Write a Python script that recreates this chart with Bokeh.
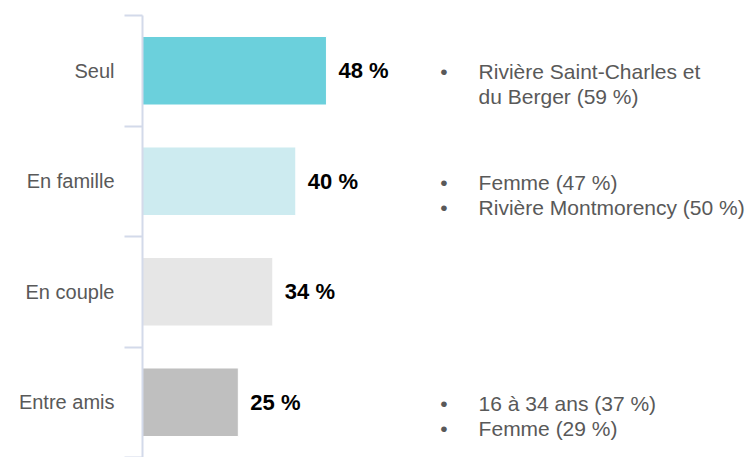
from bokeh.plotting import figure
from bokeh.models import Range1d, FixedTicker, ColumnDataSource
from bokeh.core.properties import value
from bokeh.embed import file_html
from bokeh.resources import INLINE

categories = ["Seul", "En famille", "En couple", "Entre amis"]
values = [48, 40, 34, 25]
colors = ["#6BD0DC", "#CDEBF0", "#E6E6E6", "#BFBFBF"]
notes = [
    ["Rivière Saint-Charles et", "du Berger (59 %)"],
    ["Femme (47 %)", "Rivière Montmorency (50 %)"],
    [],
    ["16 à 34 ans (37 %)", "Femme (29 %)"],
]
bullets = [[True, False], [True, True], [], [True, True]]

n = len(categories)
ys = [n - i - 0.5 for i in range(n)]
labels = [f"{v} %" for v in values]

FONT = "Liberation Sans"
GRAY = "#595959"
AXIS = "#D3DAEA"

p = figure(width=751, height=457, output_backend="svg", toolbar_location=None,
           x_range=Range1d(0, 158.9), y_range=Range1d(0, n),
           min_border_left=142, min_border_right=0, min_border_top=15, min_border_bottom=0)
p.outline_line_color = None
p.xgrid.visible = False
p.ygrid.visible = False
p.xaxis.visible = False
p.background_fill_color = "white"

src = ColumnDataSource(dict(y=ys, v=values, c=colors, lab=labels))
p.hbar(y="y", left=0, right="v", height=0.62, fill_color="c", line_color="white",
       line_width=1, source=src)
p.text(x="v", y="y", text="lab", source=src, x_offset=12, text_baseline="middle",
       text_align="left", text_font=value(FONT), text_font_size="22px",
       text_font_style="bold", text_color="black")

# annotations
bx, tx, by, ty, tt, offs, boffs = [], [], [], [], [], [], []
for i, lines in enumerate(notes):
    for j, line in enumerate(lines):
        tx.append(87.7)
        ty.append(ys[i])
        tt.append(line)
        offs.append(1 + j * 25)
        if bullets[i][j]:
            bx.append(77.7)
            by.append(ys[i])
            boffs.append(1 + j * 25)
ann = ColumnDataSource(dict(x=tx, y=ty, t=tt, o=offs))
p.text(x="x", y="y", text="t", y_offset="o", source=ann, text_baseline="middle",
       text_align="left", text_font=value(FONT), text_font_size="21px", text_color=GRAY)
bsrc = ColumnDataSource(dict(x=bx, y=by, o=boffs, t=["•"] * len(bx)))
p.text(x="x", y="y", text="t", y_offset="o", source=bsrc, text_baseline="middle",
       text_align="left", text_font=value(FONT), text_font_size="21px", text_color=GRAY)

ax = p.yaxis[0]
ax.ticker = FixedTicker(ticks=ys, minor_ticks=[float(k) for k in range(n + 1)])
ax.major_label_overrides = {y: c for y, c in zip(ys, categories)}
ax.axis_line_color = AXIS
ax.axis_line_width = 2
ax.major_tick_line_color = None
ax.major_tick_out = 0
ax.major_tick_in = 0
ax.minor_tick_line_color = AXIS
ax.minor_tick_line_width = 2
ax.minor_tick_out = 18
ax.minor_tick_in = 0
ax.major_label_standoff = 10
ax.major_label_text_font = FONT
ax.major_label_text_font_size = "20px"
ax.major_label_text_color = GRAY

open("out.html", "w").write(file_html(p, INLINE))
